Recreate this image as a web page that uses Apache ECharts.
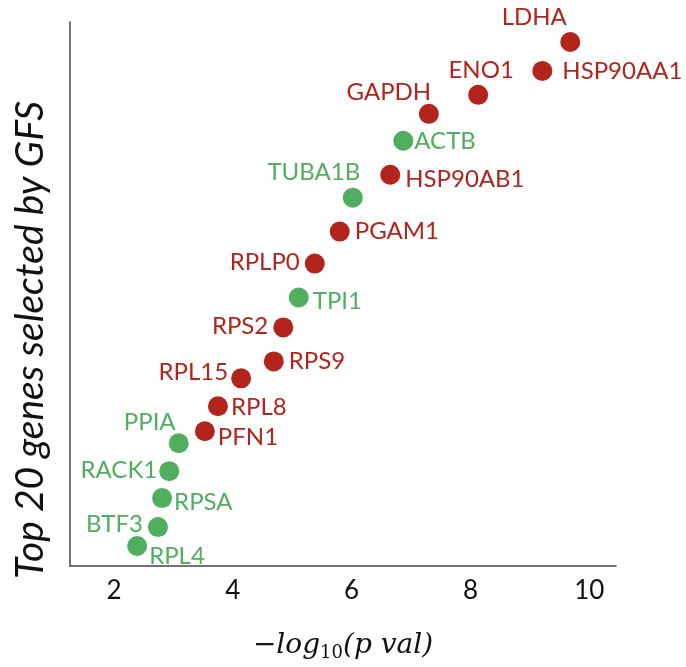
<!DOCTYPE html>
<html><head><meta charset="utf-8">
<script src="https://cdn.jsdelivr.net/npm/echarts@6/dist/echarts.min.js"></script>
<style>html,body{margin:0;padding:0;background:#fff}#c{width:686px;height:667px}</style>
</head><body><div id="c"></div>
<script>
// Data
const genes = ['LDHA','HSP90AA1','ENO1','GAPDH','ACTB','HSP90AB1','TUBA1B','PGAM1','RPLP0','TPI1','RPS2','RPS9','RPL15','RPL8','PFN1','PPIA','RACK1','RPSA','BTF3','RPL4'];
const negLogP = [9.68,9.21,8.13,7.30,6.87,6.65,6.02,5.80,5.38,5.11,4.85,4.69,4.14,3.75,3.53,3.09,2.93,2.81,2.74,2.39];
const rankPos = [525,496,472,453,426,392,369,335,303,269,239,205,188,160,135,123,95,68,39,20];
const group = ['r','r','r','r','g','r','g','r','r','g','r','r','r','r','r','g','g','g','g','g'];
const xTicks = [2,4,6,8,10];

// Label placement (style)
const labelPlace = {
  LDHA:['above',-36,-25], HSP90AA1:['right',10,0], ENO1:['above',3,-25], GAPDH:['above',-40,-22],
  ACTB:['right',1,0], HSP90AB1:['right',5,5], TUBA1B:['above',-39,-25], PGAM1:['right',5,0],
  RPLP0:['left',5,-1], TPI1:['right',4,4], RPS2:['left',5,-1], RPS9:['right',5,0],
  RPL15:['left',3,-6], RPL8:['right',3,1], PFN1:['right',3,6], PPIA:['above',-29,-21],
  RACK1:['left',2,-1], RPSA:['right',2,4], BTF3:['left',5,-3], RPL4:['right',2,10]
};
const colors = {r:'#B2241C', g:'#50AE5E'};
const FONT = 'Lato';
const SYM = 20;

const data = genes.map((g,i)=>{
  const p = labelPlace[g];
  const lab = {show:true, formatter:g, color:colors[group[i]], fontSize:24, fontFamily:FONT, verticalAlign:'middle'};
  if (p[0]==='above'){ lab.position=[SYM/2+p[1], SYM/2+p[2]]; lab.align='center'; }
  else if (p[0]==='right'){ lab.position=[SYM+p[1], SYM/2+p[2]]; lab.align='left'; }
  else { lab.position=[-p[1], SYM/2+p[2]]; lab.align='right'; }
  return {value:[negLogP[i], rankPos[i]], itemStyle:{color:colors[group[i]], opacity:1}, label:lab};
});

const chart = echarts.init(document.getElementById('c'), null, {renderer:'canvas'});
chart.setOption({
  animation:false,
  grid:{left:70, right:70, top:22, bottom:100},
  xAxis:{type:'value', min:1.26, max:10.45,
    axisLine:{show:true, lineStyle:{color:'#444', width:1.5}}, axisTick:{show:false}, splitLine:{show:false},
    axisLabel:{customValues:xTicks, color:'#111', fontSize:26, fontFamily:FONT, margin:12},
    name:'{a|−}{b|log}{c|10}{b|(p val)}', nameLocation:'middle', nameGap:64,
    nameTextStyle:{rich:{
      a:{fontFamily:'DejaVu Serif', fontSize:28, color:'#111'},
      b:{fontFamily:'DejaVu Serif', fontStyle:'italic', fontSize:28, color:'#111'},
      c:{fontFamily:'DejaVu Serif', fontSize:18, color:'#111', padding:[14,0,0,0]}
    }}
  },
  yAxis:{type:'value', min:0, max:545,
    axisLine:{show:true, lineStyle:{color:'#444', width:1.5}}, axisTick:{show:false}, splitLine:{show:false},
    axisLabel:{show:false}
  },
  graphic:[{type:'text', x:30, y:340, rotation:Math.PI/2,
    style:{text:'Top 20 genes selected by GFS', fontFamily:FONT, fontStyle:'italic', fontSize:39, fill:'#111', align:'center', verticalAlign:'middle'}}],
  series:[{type:'scatter', symbolSize:SYM, data:data, labelLayout:{hideOverlap:false}}]
});
</script></body></html>
